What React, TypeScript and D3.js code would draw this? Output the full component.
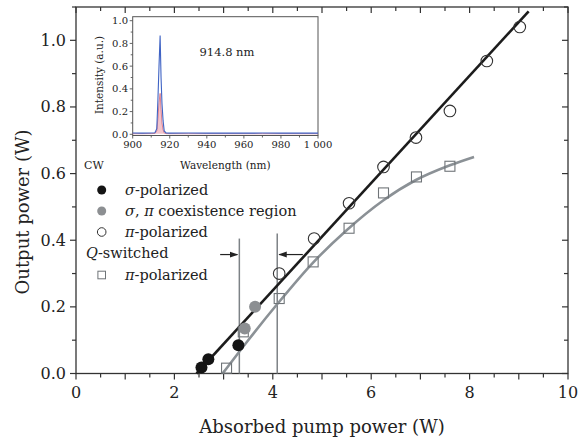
import React from 'react';
import * as d3 from 'd3';

// main plot data (absorbed pump power W, output power W)
const sigmaX = [2.55, 2.69, 3.3];
const sigmaY = [0.018, 0.043, 0.085];
const coexX = [3.43, 3.64];
const coexY = [0.135, 0.2];
const piX = [4.13, 4.84, 5.55, 6.25, 6.91, 7.6, 8.35, 9.02];
const piY = [0.3, 0.405, 0.511, 0.62, 0.708, 0.788, 0.938, 1.04];
const qX = [3.06, 3.4, 4.13, 4.82, 5.55, 6.25, 6.92, 7.6];
const qY = [0.016, 0.125, 0.225, 0.335, 0.436, 0.542, 0.59, 0.622];

// fit lines
const cwFitX = [2.45, 9.2];
const cwFitY = [0.0, 1.087];
const qFitX = [2.98, 3.5, 4.1, 4.8, 5.5, 6.25, 6.9, 7.6, 8.09];
const qFitY = [0.0, 0.1, 0.21, 0.33, 0.43, 0.52, 0.58, 0.625, 0.65];

// coexistence region markers
const regionX = [3.32, 4.09];
const regionTop = [0.405, 0.42];

const xTicks = [0, 2, 4, 6, 8, 10];
const yTicks = [0, 0.2, 0.4, 0.6, 0.8, 1.0];

// inset spectrum
const wl = [900, 905, 910, 912, 913, 913.6, 914.2, 914.8, 915.3, 915.8, 916.4, 917, 918, 920, 930, 940, 950, 960, 970, 980, 990, 1000];
const blueI = [0.012, 0.01, 0.012, 0.014, 0.05, 0.3, 0.6, 0.87, 0.5, 0.27, 0.12, 0.03, 0.012, 0.01, 0.011, 0.01, 0.012, 0.01, 0.011, 0.01, 0.012, 0.01];
const redI = [0.005, 0.005, 0.006, 0.008, 0.03, 0.14, 0.28, 0.36, 0.22, 0.1, 0.04, 0.012, 0.006, 0.005, 0.005, 0.005, 0.005, 0.005, 0.005, 0.005, 0.005, 0.005];
const wlTicks = [900, 920, 940, 960, 980, 1000];
const intTicks = [0, 0.2, 0.4, 0.6, 0.8, 1.0];

const FONT = 'DejaVu Serif';

export default function App() {
  const width = 579;
  const height = 439;

  const x = d3.scaleLinear().domain([0, 10]).range([76, 568]);
  const y = d3.scaleLinear().domain([0, 1.1]).range([373.5, 7]);

  const ix = d3.scaleLinear().domain([900, 1000]).range([132.7, 318]);
  const iy = d3.scaleLinear().domain([0, 1]).range([134.3, 20.7]);

  const line = d3.line<[number, number]>().x(d => x(d[0])).y(d => y(d[1]));
  const curve = d3.line<[number, number]>().x(d => x(d[0])).y(d => y(d[1])).curve(d3.curveMonotoneX);
  const spec = d3.line<[number, number]>().x(d => ix(d[0])).y(d => iy(d[1]));

  const zip = (a: number[], b: number[]) => a.map((v, i) => [v, b[i]] as [number, number]);

  const [x0, x1] = x.range();
  const [y0, y1] = y.range();

  const xMinor = d3.range(0, 10.01, 0.5);
  const yMinor = d3.range(0, 1.101, 0.1);

  const [ix0, ix1] = ix.range();
  const iTop = 16.7;
  const iBot = 135.5;

  return (
    <div style={{ position: 'absolute', left: 0, top: 0 }}>
      <svg width={width} height={height} style={{ display: 'block', background: '#fff' }} fontFamily={FONT}>
        <defs>
          <marker id="ah" viewBox="0 0 10 10" refX="9" refY="5" markerWidth="7" markerHeight="7" orient="auto-start-reverse">
            <path d="M0,1.5 L10,5 L0,8.5 z" fill="#222" />
          </marker>
        </defs>

        {/* main frame */}
        <rect x={x0} y={y1} width={x1 - x0} height={y0 - y1} fill="none" stroke="#333" strokeWidth={1.3} />

        {/* bottom ticks (out) and top ticks (in) */}
        {xMinor.map(v => {
          const major = Math.abs(v - Math.round(v)) < 1e-6;
          const len = major ? 6 : 4;
          return (
            <g key={'xt' + v}>
              <line x1={x(v)} x2={x(v)} y1={y0} y2={y0 + len} stroke="#333" strokeWidth={1.2} />
              <line x1={x(v)} x2={x(v)} y1={y1} y2={y1 + len} stroke="#333" strokeWidth={1.2} />
            </g>
          );
        })}
        {yMinor.map(v => {
          const major = Math.abs(v * 5 - Math.round(v * 5)) < 1e-6;
          const len = major ? 6 : 4;
          return (
            <g key={'yt' + v.toFixed(2)}>
              <line x1={x0 - len} x2={x0} y1={y(v)} y2={y(v)} stroke="#333" strokeWidth={1.2} />
              <line x1={x1 - len} x2={x1} y1={y(v)} y2={y(v)} stroke="#333" strokeWidth={1.2} />
            </g>
          );
        })}

        {xTicks.map(v => (
          <text key={'xl' + v} x={x(v)} y={392} fontSize={16} textAnchor="middle" dominantBaseline="central" fill="#222">
            {v}
          </text>
        ))}
        {yTicks.map(v => (
          <text key={'yl' + v} x={66} y={y(v)} fontSize={16} textAnchor="end" dominantBaseline="central" fill="#222">
            {v.toFixed(1)}
          </text>
        ))}

        <text x={(x0 + x1) / 2} y={426} fontSize={18} textAnchor="middle" dominantBaseline="central" fill="#222">
          Absorbed pump power (W)
        </text>
        <text transform={`translate(22,212) rotate(-90)`} fontSize={18} textAnchor="middle" dominantBaseline="central" fill="#222">
          Output power (W)
        </text>

        {/* region lines and arrows */}
        {regionX.map((v, i) => (
          <line key={'rl' + i} x1={x(v)} x2={x(v)} y1={y(0)} y2={y(regionTop[i])} stroke="#7d8286" strokeWidth={1.5} />
        ))}
        <line x1={x(2.93)} x2={x(3.28)} y1={y(0.357)} y2={y(0.357)} stroke="#222" strokeWidth={1.2} markerEnd="url(#ah)" />
        <line x1={x(4.61)} x2={x(4.13)} y1={y(0.357)} y2={y(0.357)} stroke="#222" strokeWidth={1.2} markerEnd="url(#ah)" />

        {/* fits */}
        <path d={curve(zip(qFitX, qFitY)) || ''} fill="none" stroke="#8b9196" strokeWidth={2.6} />
        <path d={line(zip(cwFitX, cwFitY)) || ''} fill="none" stroke="#1c1c1c" strokeWidth={2.6} />

        {/* data */}
        {qX.map((v, i) => (
          <rect key={'q' + i} x={x(v) - 5} y={y(qY[i]) - 5} width={10} height={10} fill="none" stroke="#6f7478" strokeWidth={1.1} />
        ))}
        {piX.map((v, i) => (
          <circle key={'p' + i} cx={x(v)} cy={y(piY[i])} r={5.8} fill="none" stroke="#333" strokeWidth={1.1} />
        ))}
        {coexX.map((v, i) => (
          <circle key={'c' + i} cx={x(v)} cy={y(coexY[i])} r={6} fill="#8c8f92" />
        ))}
        {sigmaX.map((v, i) => (
          <circle key={'s' + i} cx={x(v)} cy={y(sigmaY[i])} r={6} fill="#141414" />
        ))}

        {/* legend */}
        <text x={84} y={165} fontSize={11} dominantBaseline="central" fill="#222">CW</text>
        <circle cx={101.7} cy={190} r={4.5} fill="#141414" />
        <text x={125} y={190} fontSize={14.5} dominantBaseline="central" fill="#222">
          <tspan fontStyle="italic">σ</tspan>-polarized
        </text>
        <circle cx={101.7} cy={211} r={4.5} fill="#8c8f92" />
        <text x={125} y={211} fontSize={14.5} dominantBaseline="central" fill="#222">
          <tspan fontStyle="italic">σ</tspan>, <tspan fontStyle="italic">π</tspan> coexistence region
        </text>
        <circle cx={101.7} cy={232} r={4.3} fill="none" stroke="#333" strokeWidth={1} />
        <text x={125} y={232} fontSize={14.5} dominantBaseline="central" fill="#222">
          <tspan fontStyle="italic">π</tspan>-polarized
        </text>
        <text x={86} y={253} fontSize={14.5} dominantBaseline="central" fill="#222">
          <tspan fontStyle="italic">Q</tspan>-switched
        </text>
        <rect x={101.7 - 3.8} y={275 - 3.8} width={7.6} height={7.6} fill="none" stroke="#6f7478" strokeWidth={1} />
        <text x={125} y={275} fontSize={14.5} dominantBaseline="central" fill="#222">
          <tspan fontStyle="italic">π</tspan>-polarized
        </text>

        {/* inset */}
        <rect x={ix0} y={iTop} width={ix1 - ix0} height={iBot - iTop} fill="#fff" stroke="#555" strokeWidth={1} />
        {d3.range(900, 1000.1, 10).map(v => (
          <line key={'iwt' + v} x1={ix(v)} x2={ix(v)} y1={iBot} y2={iBot + (v % 20 === 0 ? 3 : 2)} stroke="#555" strokeWidth={0.9} />
        ))}
        {d3.range(0, 1.01, 0.1).map(v => (
          <line key={'iit' + v.toFixed(1)} x1={ix0 - (Math.round(v * 10) % 2 === 0 ? 3 : 2)} x2={ix0} y1={iy(v)} y2={iy(v)} stroke="#555" strokeWidth={0.9} />
        ))}
        {wlTicks.map(v => (
          <text key={'iwl' + v} x={ix(v)} y={144} fontSize={10} textAnchor="middle" dominantBaseline="central" fill="#222">
            {v === 1000 ? '1 000' : v}
          </text>
        ))}
        {intTicks.map(v => (
          <text key={'iil' + v} x={128} y={iy(v)} fontSize={10} textAnchor="end" dominantBaseline="central" fill="#222">
            {v.toFixed(1)}
          </text>
        ))}
        <text x={(ix0 + ix1) / 2} y={165} fontSize={10.5} textAnchor="middle" dominantBaseline="central" fill="#222">
          Wavelength (nm)
        </text>
        <text transform={`translate(99,75) rotate(-90)`} fontSize={10.5} textAnchor="middle" dominantBaseline="central" fill="#222">
          Intensity (a.u.)
        </text>
        <text x={227} y={52} fontSize={11.5} textAnchor="middle" dominantBaseline="central" fill="#222">
          914.8 nm
        </text>
        <path d={spec(zip(wl, redI)) || ''} fill="#f2c4cc" stroke="#d66a7a" strokeWidth={0.8} />
        <path d={spec(zip(wl, blueI)) || ''} fill="none" stroke="#3f63c4" strokeWidth={1.1} />
      </svg>
    </div>
  );
}
